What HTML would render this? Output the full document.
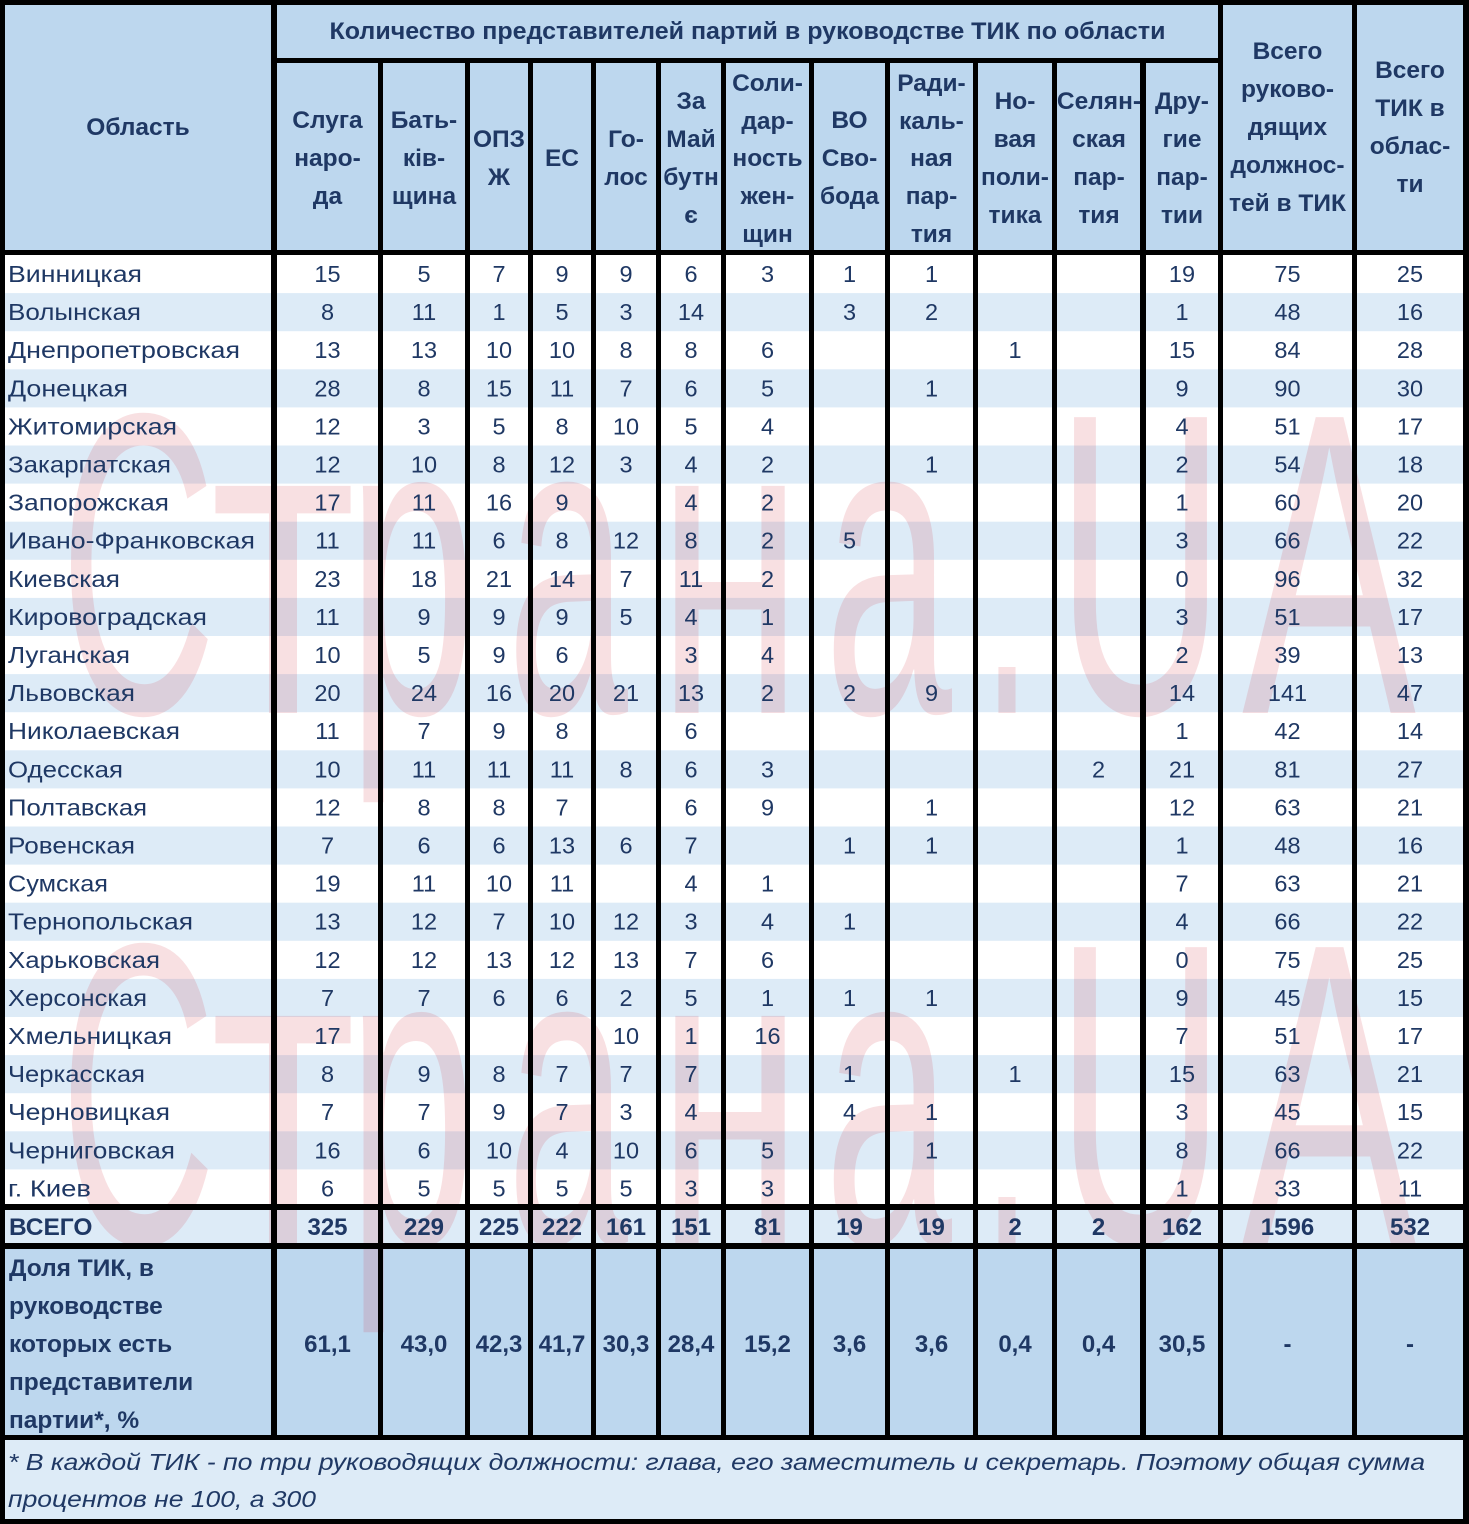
<!DOCTYPE html>
<html><head><meta charset="utf-8">
<style>
html,body{margin:0;padding:0;background:#fff;}
svg{display:block;}
text{font-family:"Liberation Sans",sans-serif;fill:#1f3864;}
.h{font-weight:bold;font-size:24.5px;text-anchor:middle;}
.n text{font-size:23.5px;text-anchor:middle;}
.n text.l{text-anchor:start;}
.b text{font-weight:bold;font-size:24px;text-anchor:middle;}
.b text.l{text-anchor:start;font-size:24.5px;}
.wm text{font-family:"Liberation Sans",sans-serif;fill:#d42a3c;font-size:430px;}
</style></head>
<body>
<svg width="1469" height="1524" viewBox="0 0 1469 1524" xmlns="http://www.w3.org/2000/svg">
<!-- backgrounds -->
<rect x="0" y="0" width="1469" height="1524" fill="#ffffff"/>
<rect x="0" y="0" width="1469" height="255" fill="#bdd7ee"/>
<g fill="#ddebf7">
<rect x="0" y="293.1" width="1469" height="38.1"/>
<rect x="0" y="369.3" width="1469" height="38.1"/>
<rect x="0" y="445.5" width="1469" height="38.1"/>
<rect x="0" y="521.7" width="1469" height="38.1"/>
<rect x="0" y="597.9" width="1469" height="38.1"/>
<rect x="0" y="674.1" width="1469" height="38.1"/>
<rect x="0" y="750.3" width="1469" height="38.1"/>
<rect x="0" y="826.5" width="1469" height="38.1"/>
<rect x="0" y="902.7" width="1469" height="38.1"/>
<rect x="0" y="978.9" width="1469" height="38.1"/>
<rect x="0" y="1055.1" width="1469" height="38.1"/>
<rect x="0" y="1131.3" width="1469" height="38.1"/>
<rect x="0" y="1208" width="1469" height="37"/>
<rect x="0" y="1438" width="1469" height="86"/>
</g>
<rect x="0" y="1247" width="1469" height="190" fill="#bdd7ee"/>

<!-- watermark -->
<g class="wm" opacity="0.14">
<text x="60" y="713" textLength="156" lengthAdjust="spacingAndGlyphs">С</text>
<text x="210" y="713" textLength="146" lengthAdjust="spacingAndGlyphs">т</text>
<text x="348" y="713" textLength="128" lengthAdjust="spacingAndGlyphs">р</text>
<text x="507" y="713" textLength="121" lengthAdjust="spacingAndGlyphs">а</text>
<text x="657" y="713" textLength="146" lengthAdjust="spacingAndGlyphs">н</text>
<text x="824" y="713" textLength="128" lengthAdjust="spacingAndGlyphs">а</text>
<text x="982" y="713" textLength="50" lengthAdjust="spacingAndGlyphs">.</text>
<text x="1056" y="713" textLength="169" lengthAdjust="spacingAndGlyphs">U</text>
<text x="1242" y="713" textLength="174" lengthAdjust="spacingAndGlyphs">A</text>

<text x="60" y="1243" textLength="156" lengthAdjust="spacingAndGlyphs">С</text>
<text x="210" y="1243" textLength="146" lengthAdjust="spacingAndGlyphs">т</text>
<text x="348" y="1243" textLength="128" lengthAdjust="spacingAndGlyphs">р</text>
<text x="507" y="1243" textLength="121" lengthAdjust="spacingAndGlyphs">а</text>
<text x="657" y="1243" textLength="146" lengthAdjust="spacingAndGlyphs">н</text>
<text x="824" y="1243" textLength="128" lengthAdjust="spacingAndGlyphs">а</text>
<text x="982" y="1243" textLength="50" lengthAdjust="spacingAndGlyphs">.</text>
<text x="1056" y="1243" textLength="169" lengthAdjust="spacingAndGlyphs">U</text>
<text x="1242" y="1243" textLength="174" lengthAdjust="spacingAndGlyphs">A</text>
</g>

<!-- grid lines -->
<g fill="#000">
<rect x="0" y="0" width="1469" height="5"/>
<rect x="0" y="1519" width="1469" height="5"/>
<rect x="0" y="0" width="5" height="1524"/>
<rect x="1463" y="0" width="6" height="1524"/>
<rect x="277" y="58" width="941" height="5"/>
<rect x="0" y="250" width="1469" height="5"/>
<rect x="0" y="1204" width="1469" height="6"/>
<rect x="0" y="1243" width="1469" height="6"/>
<rect x="0" y="1435" width="1469" height="5"/>
<rect x="271" y="0" width="6" height="1440"/>
<rect x="378" y="58" width="5" height="1382"/>
<rect x="465" y="58" width="5" height="1382"/>
<rect x="528" y="58" width="5" height="1382"/>
<rect x="591" y="58" width="5" height="1382"/>
<rect x="656" y="58" width="5" height="1382"/>
<rect x="721" y="58" width="5" height="1382"/>
<rect x="809" y="58" width="5" height="1382"/>
<rect x="885" y="58" width="5" height="1382"/>
<rect x="973" y="58" width="5" height="1382"/>
<rect x="1052" y="58" width="5" height="1382"/>
<rect x="1140" y="58" width="6" height="1382"/>
<rect x="1218" y="0" width="5" height="1440"/>
<rect x="1352" y="0" width="5" height="1440"/>
</g>

<!-- header text -->
<text class="h" x="138" y="135">Область</text>
<text class="h" x="747.5" y="39" textLength="836" lengthAdjust="spacingAndGlyphs">Количество представителей партий в руководстве ТИК по области</text>
<text class="h" x="327.5" y="128">Слуга</text><text class="h" x="327.5" y="166">наро-</text><text class="h" x="327.5" y="204">да</text>
<text class="h" x="424" y="128">Бать-</text><text class="h" x="424" y="166">ків-</text><text class="h" x="424" y="204">щина</text>
<text class="h" x="499" y="147">ОПЗ</text><text class="h" x="499" y="185">Ж</text>
<text class="h" x="562" y="166">ЕС</text>
<text class="h" x="626" y="147">Го-</text><text class="h" x="626" y="185">лос</text>
<text class="h" x="691" y="109">За</text><text class="h" x="691" y="147">Май</text><text class="h" x="691" y="185">бутн</text><text class="h" x="691" y="223">є</text>
<text class="h" x="767.5" y="91">Соли-</text><text class="h" x="767.5" y="129">дар-</text><text class="h" x="767.5" y="166">ность</text><text class="h" x="767.5" y="204">жен-</text><text class="h" x="767.5" y="242">щин</text>
<text class="h" x="849.5" y="128">ВО</text><text class="h" x="849.5" y="166">Сво-</text><text class="h" x="849.5" y="204">бода</text>
<text class="h" x="931.5" y="91">Ради-</text><text class="h" x="931.5" y="129">каль-</text><text class="h" x="931.5" y="166">ная</text><text class="h" x="931.5" y="204">пар-</text><text class="h" x="931.5" y="242">тия</text>
<text class="h" x="1015" y="109">Но-</text><text class="h" x="1015" y="147">вая</text><text class="h" x="1015" y="185">поли-</text><text class="h" x="1015" y="223">тика</text>
<text class="h" x="1099" y="109">Селян-</text><text class="h" x="1099" y="147">ская</text><text class="h" x="1099" y="185">пар-</text><text class="h" x="1099" y="223">тия</text>
<text class="h" x="1182" y="109">Дру-</text><text class="h" x="1182" y="147">гие</text><text class="h" x="1182" y="185">пар-</text><text class="h" x="1182" y="223">тии</text>
<text class="h" x="1287.5" y="59">Всего</text><text class="h" x="1287.5" y="97">руково-</text><text class="h" x="1287.5" y="135">дящих</text><text class="h" x="1287.5" y="173">должнос-</text><text class="h" x="1287.5" y="211">тей в ТИК</text>
<text class="h" x="1410" y="78">Всего</text><text class="h" x="1410" y="116">ТИК в</text><text class="h" x="1410" y="154">облас-</text><text class="h" x="1410" y="192">ти</text>

<!-- data rows -->
<g class="n">
<g transform="translate(0,282)"><text class="l" x="8" textLength="134" lengthAdjust="spacingAndGlyphs">Винницкая</text><text x="327.5">15</text><text x="424">5</text><text x="499">7</text><text x="562">9</text><text x="626">9</text><text x="691">6</text><text x="767.5">3</text><text x="849.5">1</text><text x="931.5">1</text><text x="1182">19</text><text x="1287.5">75</text><text x="1410">25</text></g>
<g transform="translate(0,320.1)"><text class="l" x="8" textLength="133" lengthAdjust="spacingAndGlyphs">Волынская</text><text x="327.5">8</text><text x="424">11</text><text x="499">1</text><text x="562">5</text><text x="626">3</text><text x="691">14</text><text x="849.5">3</text><text x="931.5">2</text><text x="1182">1</text><text x="1287.5">48</text><text x="1410">16</text></g>
<g transform="translate(0,358.2)"><text class="l" x="8" textLength="232" lengthAdjust="spacingAndGlyphs">Днепропетровская</text><text x="327.5">13</text><text x="424">13</text><text x="499">10</text><text x="562">10</text><text x="626">8</text><text x="691">8</text><text x="767.5">6</text><text x="1015">1</text><text x="1182">15</text><text x="1287.5">84</text><text x="1410">28</text></g>
<g transform="translate(0,396.3)"><text class="l" x="8" textLength="120" lengthAdjust="spacingAndGlyphs">Донецкая</text><text x="327.5">28</text><text x="424">8</text><text x="499">15</text><text x="562">11</text><text x="626">7</text><text x="691">6</text><text x="767.5">5</text><text x="931.5">1</text><text x="1182">9</text><text x="1287.5">90</text><text x="1410">30</text></g>
<g transform="translate(0,434.4)"><text class="l" x="8" textLength="169" lengthAdjust="spacingAndGlyphs">Житомирская</text><text x="327.5">12</text><text x="424">3</text><text x="499">5</text><text x="562">8</text><text x="626">10</text><text x="691">5</text><text x="767.5">4</text><text x="1182">4</text><text x="1287.5">51</text><text x="1410">17</text></g>
<g transform="translate(0,472.5)"><text class="l" x="8" textLength="163" lengthAdjust="spacingAndGlyphs">Закарпатская</text><text x="327.5">12</text><text x="424">10</text><text x="499">8</text><text x="562">12</text><text x="626">3</text><text x="691">4</text><text x="767.5">2</text><text x="931.5">1</text><text x="1182">2</text><text x="1287.5">54</text><text x="1410">18</text></g>
<g transform="translate(0,510.6)"><text class="l" x="8" textLength="161" lengthAdjust="spacingAndGlyphs">Запорожская</text><text x="327.5">17</text><text x="424">11</text><text x="499">16</text><text x="562">9</text><text x="691">4</text><text x="767.5">2</text><text x="1182">1</text><text x="1287.5">60</text><text x="1410">20</text></g>
<g transform="translate(0,548.7)"><text class="l" x="8" textLength="247" lengthAdjust="spacingAndGlyphs">Ивано-Франковская</text><text x="327.5">11</text><text x="424">11</text><text x="499">6</text><text x="562">8</text><text x="626">12</text><text x="691">8</text><text x="767.5">2</text><text x="849.5">5</text><text x="1182">3</text><text x="1287.5">66</text><text x="1410">22</text></g>
<g transform="translate(0,586.8)"><text class="l" x="8" textLength="112" lengthAdjust="spacingAndGlyphs">Киевская</text><text x="327.5">23</text><text x="424">18</text><text x="499">21</text><text x="562">14</text><text x="626">7</text><text x="691">11</text><text x="767.5">2</text><text x="1182">0</text><text x="1287.5">96</text><text x="1410">32</text></g>
<g transform="translate(0,624.9)"><text class="l" x="8" textLength="199" lengthAdjust="spacingAndGlyphs">Кировоградская</text><text x="327.5">11</text><text x="424">9</text><text x="499">9</text><text x="562">9</text><text x="626">5</text><text x="691">4</text><text x="767.5">1</text><text x="1182">3</text><text x="1287.5">51</text><text x="1410">17</text></g>
<g transform="translate(0,663)"><text class="l" x="8" textLength="122" lengthAdjust="spacingAndGlyphs">Луганская</text><text x="327.5">10</text><text x="424">5</text><text x="499">9</text><text x="562">6</text><text x="691">3</text><text x="767.5">4</text><text x="1182">2</text><text x="1287.5">39</text><text x="1410">13</text></g>
<g transform="translate(0,701.1)"><text class="l" x="8" textLength="127" lengthAdjust="spacingAndGlyphs">Львовская</text><text x="327.5">20</text><text x="424">24</text><text x="499">16</text><text x="562">20</text><text x="626">21</text><text x="691">13</text><text x="767.5">2</text><text x="849.5">2</text><text x="931.5">9</text><text x="1182">14</text><text x="1287.5">141</text><text x="1410">47</text></g>
<g transform="translate(0,739.2)"><text class="l" x="8" textLength="172" lengthAdjust="spacingAndGlyphs">Николаевская</text><text x="327.5">11</text><text x="424">7</text><text x="499">9</text><text x="562">8</text><text x="691">6</text><text x="1182">1</text><text x="1287.5">42</text><text x="1410">14</text></g>
<g transform="translate(0,777.3)"><text class="l" x="8" textLength="115" lengthAdjust="spacingAndGlyphs">Одесская</text><text x="327.5">10</text><text x="424">11</text><text x="499">11</text><text x="562">11</text><text x="626">8</text><text x="691">6</text><text x="767.5">3</text><text x="1098.5">2</text><text x="1182">21</text><text x="1287.5">81</text><text x="1410">27</text></g>
<g transform="translate(0,815.4)"><text class="l" x="8" textLength="139" lengthAdjust="spacingAndGlyphs">Полтавская</text><text x="327.5">12</text><text x="424">8</text><text x="499">8</text><text x="562">7</text><text x="691">6</text><text x="767.5">9</text><text x="931.5">1</text><text x="1182">12</text><text x="1287.5">63</text><text x="1410">21</text></g>
<g transform="translate(0,853.5)"><text class="l" x="8" textLength="127" lengthAdjust="spacingAndGlyphs">Ровенская</text><text x="327.5">7</text><text x="424">6</text><text x="499">6</text><text x="562">13</text><text x="626">6</text><text x="691">7</text><text x="849.5">1</text><text x="931.5">1</text><text x="1182">1</text><text x="1287.5">48</text><text x="1410">16</text></g>
<g transform="translate(0,891.6)"><text class="l" x="8" textLength="100" lengthAdjust="spacingAndGlyphs">Сумская</text><text x="327.5">19</text><text x="424">11</text><text x="499">10</text><text x="562">11</text><text x="691">4</text><text x="767.5">1</text><text x="1182">7</text><text x="1287.5">63</text><text x="1410">21</text></g>
<g transform="translate(0,929.7)"><text class="l" x="8" textLength="185" lengthAdjust="spacingAndGlyphs">Тернопольская</text><text x="327.5">13</text><text x="424">12</text><text x="499">7</text><text x="562">10</text><text x="626">12</text><text x="691">3</text><text x="767.5">4</text><text x="849.5">1</text><text x="1182">4</text><text x="1287.5">66</text><text x="1410">22</text></g>
<g transform="translate(0,967.8)"><text class="l" x="8" textLength="152" lengthAdjust="spacingAndGlyphs">Харьковская</text><text x="327.5">12</text><text x="424">12</text><text x="499">13</text><text x="562">12</text><text x="626">13</text><text x="691">7</text><text x="767.5">6</text><text x="1182">0</text><text x="1287.5">75</text><text x="1410">25</text></g>
<g transform="translate(0,1005.9)"><text class="l" x="8" textLength="139" lengthAdjust="spacingAndGlyphs">Херсонская</text><text x="327.5">7</text><text x="424">7</text><text x="499">6</text><text x="562">6</text><text x="626">2</text><text x="691">5</text><text x="767.5">1</text><text x="849.5">1</text><text x="931.5">1</text><text x="1182">9</text><text x="1287.5">45</text><text x="1410">15</text></g>
<g transform="translate(0,1044)"><text class="l" x="8" textLength="164" lengthAdjust="spacingAndGlyphs">Хмельницкая</text><text x="327.5">17</text><text x="626">10</text><text x="691">1</text><text x="767.5">16</text><text x="1182">7</text><text x="1287.5">51</text><text x="1410">17</text></g>
<g transform="translate(0,1082.1)"><text class="l" x="8" textLength="137" lengthAdjust="spacingAndGlyphs">Черкасская</text><text x="327.5">8</text><text x="424">9</text><text x="499">8</text><text x="562">7</text><text x="626">7</text><text x="691">7</text><text x="849.5">1</text><text x="1015">1</text><text x="1182">15</text><text x="1287.5">63</text><text x="1410">21</text></g>
<g transform="translate(0,1120.2)"><text class="l" x="8" textLength="162" lengthAdjust="spacingAndGlyphs">Черновицкая</text><text x="327.5">7</text><text x="424">7</text><text x="499">9</text><text x="562">7</text><text x="626">3</text><text x="691">4</text><text x="849.5">4</text><text x="931.5">1</text><text x="1182">3</text><text x="1287.5">45</text><text x="1410">15</text></g>
<g transform="translate(0,1158.3)"><text class="l" x="8" textLength="167" lengthAdjust="spacingAndGlyphs">Черниговская</text><text x="327.5">16</text><text x="424">6</text><text x="499">10</text><text x="562">4</text><text x="626">10</text><text x="691">6</text><text x="767.5">5</text><text x="931.5">1</text><text x="1182">8</text><text x="1287.5">66</text><text x="1410">22</text></g>
<g transform="translate(0,1196.4)"><text class="l" x="8" textLength="83" lengthAdjust="spacingAndGlyphs">г. Киев</text><text x="327.5">6</text><text x="424">5</text><text x="499">5</text><text x="562">5</text><text x="626">5</text><text x="691">3</text><text x="767.5">3</text><text x="1182">1</text><text x="1287.5">33</text><text x="1410">11</text></g>
</g>

<!-- totals -->
<g class="b">
<g transform="translate(0,1235)"><text class="l" x="9">ВСЕГО</text><text x="327.5">325</text><text x="424">229</text><text x="499">225</text><text x="562">222</text><text x="626">161</text><text x="691">151</text><text x="767.5">81</text><text x="849.5">19</text><text x="931.5">19</text><text x="1015">2</text><text x="1098.5">2</text><text x="1182">162</text><text x="1287.5">1596</text><text x="1410">532</text></g>
<text class="l" x="9" y="1276">Доля ТИК, в</text>
<text class="l" x="9" y="1314">руководстве</text>
<text class="l" x="9" y="1352">которых есть</text>
<text class="l" x="9" y="1390">представители</text>
<text class="l" x="9" y="1428">партии*, %</text>
<g transform="translate(0,1352)"><text x="327.5">61,1</text><text x="424">43,0</text><text x="499">42,3</text><text x="562">41,7</text><text x="626">30,3</text><text x="691">28,4</text><text x="767.5">15,2</text><text x="849.5">3,6</text><text x="931.5">3,6</text><text x="1015">0,4</text><text x="1098.5">0,4</text><text x="1182">30,5</text><text x="1287.5">-</text><text x="1410">-</text></g>
</g>

<!-- footnote -->
<text x="8" y="1470" font-style="italic" font-size="23.5" textLength="1417" lengthAdjust="spacingAndGlyphs">* В каждой ТИК - по три руководящих должности: глава, его заместитель и секретарь. Поэтому общая сумма</text>
<text x="8" y="1507" font-style="italic" font-size="23.5" textLength="308" lengthAdjust="spacingAndGlyphs">процентов не 100, а 300</text>
</svg>
</body></html>
